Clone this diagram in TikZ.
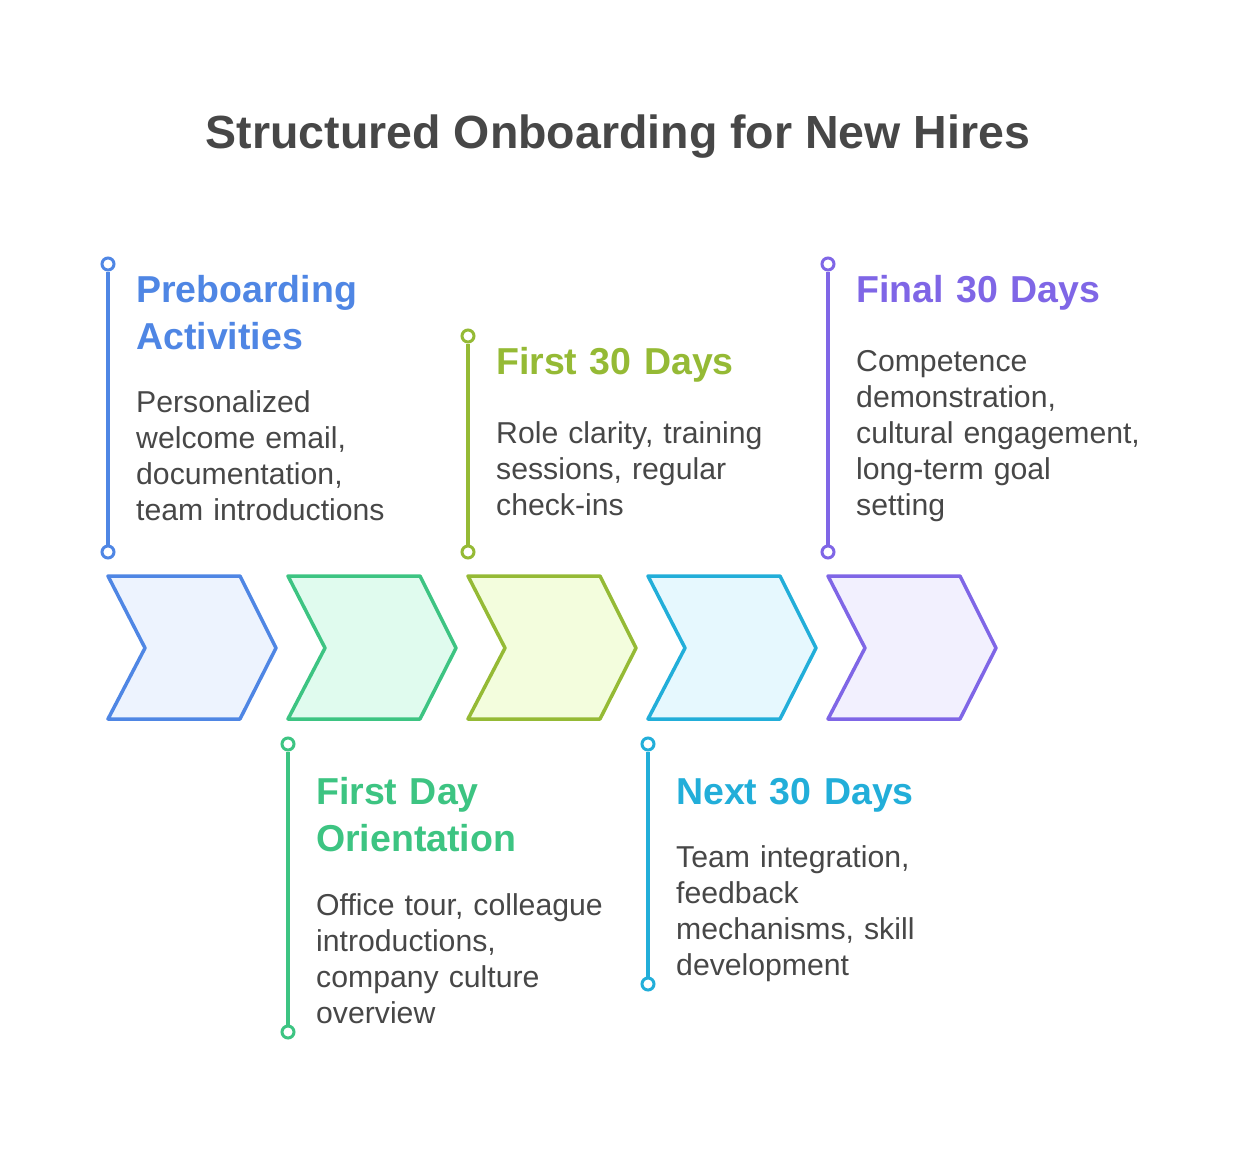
\documentclass[tikz,border=0pt]{standalone}
\usepackage{fontspec}
\setmainfont{Liberation Sans}
\usetikzlibrary{positioning}
\definecolor{ink}{HTML}{474747}
\definecolor{cblue}{HTML}{4F86E4}
\definecolor{cbluefill}{HTML}{EDF3FE}
\definecolor{cgreen}{HTML}{3DC482}
\definecolor{cgreenfill}{HTML}{E0FBEE}
\definecolor{colive}{HTML}{95BA35}
\definecolor{colivefill}{HTML}{F3FDDD}
\definecolor{ccyan}{HTML}{22AED9}
\definecolor{ccyanfill}{HTML}{E6F8FE}
\definecolor{cpurple}{HTML}{7F66E6}
\definecolor{cpurplefill}{HTML}{F2F0FE}
\begin{document}
\begin{tikzpicture}[x=1pt,y=-1pt,
	chev/.style={line width=3.5pt,line join=round},
	stem/.style={line width=3.5pt},
	dot/.style={circle,draw,line width=3pt,fill=white,inner sep=0pt,minimum size=12pt},
	head/.style={anchor=base west,inner sep=0pt,text width=340pt,align=left,font=\fontsize{37.5}{47}\selectfont\bfseries},
	body/.style={anchor=base west,inner sep=0pt,text width=340pt,align=left,text=ink,font=\fontsize{30.2}{36}\selectfont}]
	\useasboundingbox (0,0) rectangle (1236,1152);
	\node[anchor=base,inner sep=0pt,text=ink,font=\fontsize{46.5}{56}\selectfont\bfseries] (title) at (618,148) {Structured Onboarding for New Hires};
	% chevrons
	\foreach \x/\c in {108/cblue,288/cgreen,468/colive,648/ccyan,828/cpurple}
		\draw[chev,draw=\c,fill=\c fill] (\x,576) -- ++(132,0) -- ++(36,72) -- ++(-36,71) -- ++(-132,0) -- ++(37,-71) -- cycle;
	% stems
	\node[dot,draw=cblue]   (pb1) at (108,264)  {};
	\node[dot,draw=cblue]   (pb2) at (108,552)  {};
	\node[dot,draw=cgreen]  (fd1) at (288,744)  {};
	\node[dot,draw=cgreen]  (fd2) at (288,1032) {};
	\node[dot,draw=colive]  (ft1) at (468,336)  {};
	\node[dot,draw=colive]  (ft2) at (468,552)  {};
	\node[dot,draw=ccyan]   (nt1) at (648,744)  {};
	\node[dot,draw=ccyan]   (nt2) at (648,984)  {};
	\node[dot,draw=cpurple] (lt1) at (828,264)  {};
	\node[dot,draw=cpurple] (lt2) at (828,552)  {};
	\draw[stem,cblue]   (pb1) -- (pb2);
	\draw[stem,cgreen]  (fd1) -- (fd2);
	\draw[stem,colive]  (ft1) -- (ft2);
	\draw[stem,ccyan]   (nt1) -- (nt2);
	\draw[stem,cpurple] (lt1) -- (lt2);
	% texts
	\node[head,text=cblue]   (pbhead) at (136,302) {Preboarding\\Activities};
	\node[body]              (pbbody) at (136,412) {Personalized\\welcome email,\\documentation,\\team introductions};
	\node[head,text=cgreen]  (fdhead) at (316,804) {First Day\\Orientation};
	\node[body]              (fdbody) at (316,915) {Office tour, colleague\\introductions,\\company culture\\overview};
	\node[head,text=colive]  (fthead) at (496,374) {First 30 Days};
	\node[body]              (ftbody) at (496,443) {Role clarity, training\\sessions, regular\\check-ins};
	\node[head,text=ccyan]   (nthead) at (676,804) {Next 30 Days};
	\node[body]              (ntbody) at (676,867) {Team integration,\\feedback\\mechanisms, skill\\development};
	\node[head,text=cpurple] (lthead) at (856,302) {Final 30 Days};
	\node[body]              (ltbody) at (856,371) {Competence\\demonstration,\\cultural engagement,\\long-term goal\\setting};
\end{tikzpicture}
\end{document}
